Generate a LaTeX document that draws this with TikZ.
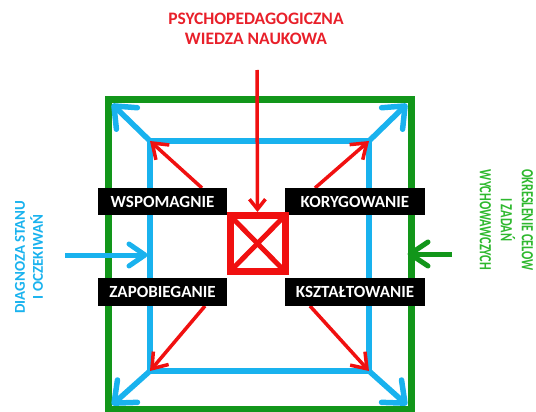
\documentclass[tikz,border=0pt]{standalone}
\usepackage{fontspec}
\setmainfont{Carlito}
\newfontfamily\narrowfont[FakeStretch=0.72]{Carlito}
\usetikzlibrary{arrows.meta}
\definecolor{grn}{HTML}{12961A}
\definecolor{grntxt}{HTML}{2EB82E}
\definecolor{blu}{HTML}{19B2EE}
\definecolor{rd}{HTML}{F01010}
\definecolor{rdtxt}{HTML}{E8202A}
\pgfdeclarelayer{bg}
\pgfsetlayers{bg,main}
\tikzset{
  lbl/.style={fill=black, text=white, font=\bfseries\fontsize{17}{17}\selectfont, minimum height=27, inner sep=0pt, outer sep=0pt},
  grnline/.style={draw=grn, line width=7},
  bluline/.style={draw=blu, line width=5.5},
  bluarr/.style={blu, line width=5.5, -{Straight Barb[length=18, width=30, round]}},
  rdarr/.style={rd, line width=3.5, -{Straight Barb[length=14, width=20]}},
  sidetxt/.style={font=\bfseries\fontsize{15}{18}\selectfont, align=center, inner sep=0pt},
}
\begin{document}
\begin{tikzpicture}[x=1pt,y=-1pt]
\useasboundingbox (0,0) rectangle (536,412);
% corners
\coordinate (gTL) at (108,100);
\coordinate (gTR) at (411,100);
\coordinate (gBL) at (108,409);
\coordinate (gBR) at (411,409);
\coordinate (bTL) at (150,141);
\coordinate (bTR) at (369,141);
\coordinate (bBL) at (150,371);
\coordinate (bBR) at (369,371);
\coordinate (aTL) at (112,104);
\coordinate (aTR) at (407,104);
\coordinate (aBL) at (112,405);
\coordinate (aBR) at (407,405);
\coordinate (srcB) at (65,255);
\coordinate (srcG) at (452,254);
\coordinate (srcR) at (257,70);
% texts
\node[font=\bfseries\fontsize{17.5}{20}\selectfont, text=rdtxt, align=center, inner sep=0pt] (title) at (256,29) {PSYCHOPEDAGOGICZNA\\WIEDZA NAUKOWA};
\node[sidetxt, text=blu, rotate=90] (diag) at (29,257) {DIAGNOZA STANU\\I OCZEKIWAŃ};
\node[font=\narrowfont\bfseries\fontsize{17}{21}\selectfont, align=center, inner sep=0pt, text=grntxt, rotate=-90] (okr) at (506.5,220) {OKRESLENIE CELOW\\I ZADAŃ\\WYCHOWAWCZYCH};
% labels
\node[lbl, minimum width=129] (wsp) at (162.5,201.5) {WSPOMAGNIE};
\node[lbl, minimum width=140] (kor) at (355,201.5) {KORYGOWANIE};
\node[lbl, minimum width=129, minimum height=28] (zap) at (162.5,292) {ZAPOBIEGANIE};
\node[lbl, minimum width=140, minimum height=28] (ksz) at (355,292) {KSZTAŁTOWANIE};
% red square
\node[draw=rd, line width=7, minimum width=55, minimum height=56, outer sep=0pt, inner sep=0pt] (sq) at (257.5,243.5) {};
\draw[rd, line width=5] (sq.north west) -- (sq.south east);
\draw[rd, line width=5] (sq.north east) -- (sq.south west);
\begin{pgfonlayer}{bg}
\draw[grnline] (gTL) rectangle (gBR);
\draw[bluline] (bTL) rectangle (bBR);
\draw[bluarr] (bTL) -- (aTL);
\draw[bluarr] (bTR) -- (aTR);
\draw[bluarr] (bBL) -- (aBL);
\draw[bluarr] (bBR) -- (aBR);
\draw[rdarr] ([xshift=-25]wsp.north east) -- (bTL);
\draw[rdarr] ([xshift=30]kor.north west) -- (bTR);
\draw[rdarr] ([xshift=-22]zap.south east) -- (bBL);
\draw[rdarr] ([xshift=25]ksz.south west) -- (bBR);
\draw[rd, line width=3.5, -{Straight Barb[length=10, width=16]}, shorten >=3.5] (srcR) -- (sq.north);
\draw[blu, line width=5, -{Straight Barb[length=16, width=22, round]}, shorten >=2.5] (srcB) -- (bTL |- srcB);
\draw[grn, line width=5, -{Straight Barb[length=18, width=24, round]}, shorten >=-3.5] (srcG) -- (gTR |- srcG);
\end{pgfonlayer}
\end{tikzpicture}
\end{document}
